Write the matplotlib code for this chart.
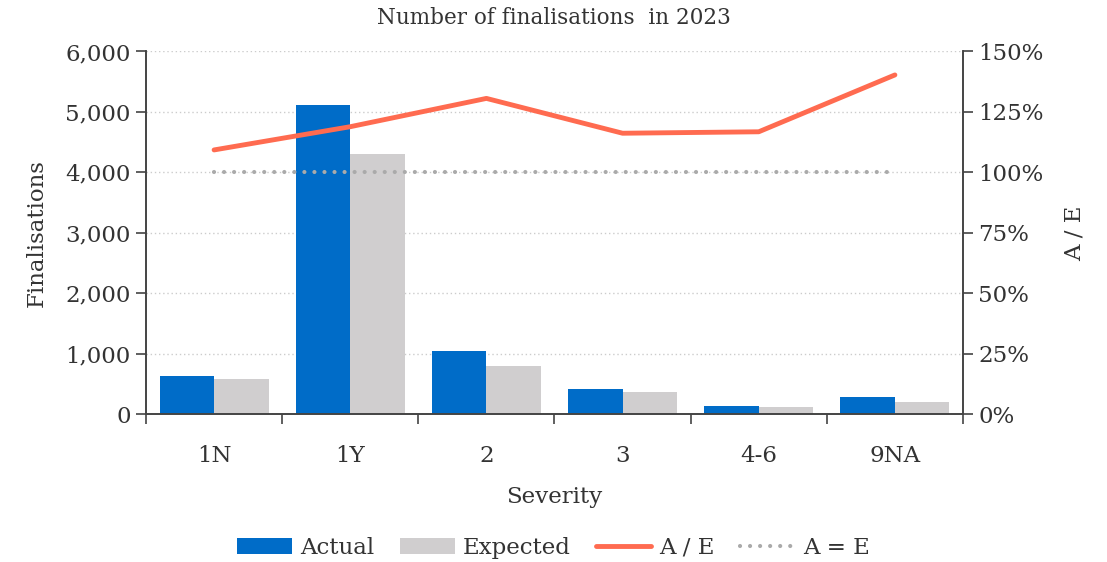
import matplotlib
matplotlib.use("Agg")
import matplotlib.pyplot as plt
import numpy as np
from matplotlib.ticker import FuncFormatter, FixedLocator

categories = ["1N", "1Y", "2", "3", "4-6", "9NA"]
actual = [633, 5120, 1042, 413, 142, 281]
expected = [579, 4300, 799, 364, 116, 198]
ae_ratio = [109.3, 118.9, 130.6, 116.2, 116.8, 140.3]
ae_equal = [100, 100, 100, 100, 100, 100]

plt.rcParams['font.family'] = ['DejaVu Serif']
TXT = '#333333'
FS = 16.5

fig = plt.figure(figsize=(11.07, 5.62), dpi=100)
ax = fig.add_axes([0.1319, 0.2628, 0.7380, 0.6456])
ax2 = ax.twinx()

x = np.arange(len(categories))
w = 0.4
ax.bar(x - w/2, actual, w, color='#006CC8', label='Actual', zorder=2)
ax.bar(x + w/2, expected, w, color='#D0CECF', label='Expected', zorder=2)

ax2.plot(x, ae_ratio, color='#FF6B50', lw=3.5, solid_capstyle='round', label='A / E', zorder=3)
ax2.plot(x, ae_equal, color='#AAAAAA', lw=3, linestyle=(0, (0.01, 2.4)), dash_capstyle='round', label='A = E', zorder=3)

ax.set_xlim(-0.5, len(categories) - 0.5)
ax.set_ylim(0, 6000)
ax2.set_ylim(0, 150)
ax.set_yticks(range(0, 6001, 1000))
ax2.set_yticks(range(0, 151, 25))
ax.yaxis.set_major_formatter(FuncFormatter(lambda v, p: f"{int(v):,}"))
ax2.yaxis.set_major_formatter(FuncFormatter(lambda v, p: f"{int(v)}%"))
ax.grid(axis='y', color='#CCCCCC', linestyle=(0, (1, 2)), lw=1, zorder=0)
ax.set_axisbelow(True)

ax.set_xticks(x)
ax.set_xticklabels(categories)
ax.xaxis.set_minor_locator(FixedLocator(np.arange(-0.5, len(categories), 1)))
ax.tick_params(axis='x', which='major', length=0, pad=22, labelsize=FS, labelcolor=TXT)
ax.tick_params(axis='x', which='minor', length=7, width=1.2, color='#444444', direction='out')
ax.tick_params(axis='y', length=7, width=1.2, color='#444444', labelsize=FS, labelcolor=TXT, pad=4)
ax2.tick_params(axis='y', length=7, width=1.2, color='#444444', labelsize=FS, labelcolor=TXT, pad=4)

for a in (ax, ax2):
    a.spines['top'].set_visible(False)
    for s in ('left', 'right', 'bottom'):
        a.spines[s].set_color('#444444')
        a.spines[s].set_linewidth(1.2)

ax.set_xlabel('Severity', fontsize=FS, color=TXT, labelpad=14)
ax.set_ylabel('Finalisations', fontsize=FS, color=TXT, labelpad=13)
ax2.set_ylabel('A / E', fontsize=FS, color=TXT, labelpad=14)
fig.text(0.5, 1 - 18/562, 'Number of finalisations  in 2023', fontsize=15.5, color=TXT,
         ha='center', va='center')

h1, l1 = ax.get_legend_handles_labels()
h2, l2 = ax2.get_legend_handles_labels()
fig.legend(h1 + h2, l1 + l2, loc='center', bbox_to_anchor=(0.5, 1 - 548/562), ncol=4,
           frameon=False, fontsize=FS, handlelength=2.4, columnspacing=1.1, handletextpad=0.35,
           labelcolor=TXT)

fig.savefig('out.png', dpi=100)
